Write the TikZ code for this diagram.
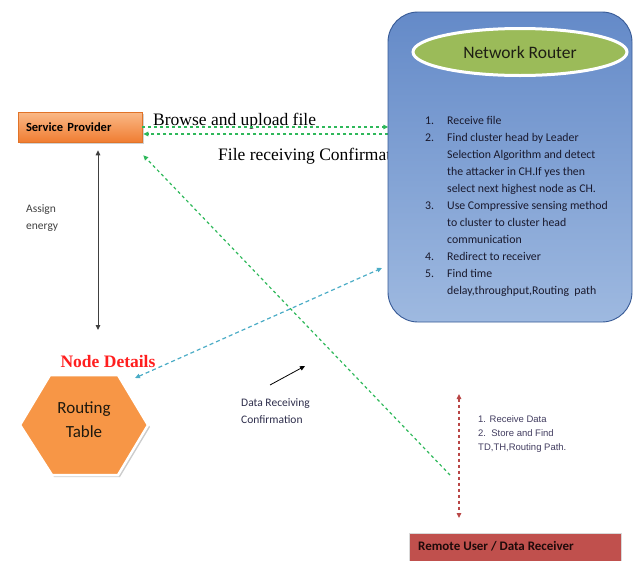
\documentclass[tikz,border=0pt]{standalone}
\usepackage{fontspec}
\setmainfont{Liberation Serif}
\newfontfamily\calfont{Carlito}
\newfontfamily\arfont{Liberation Sans}
\usetikzlibrary{shapes.geometric,arrows.meta,shadows}
\definecolor{grn}{RGB}{46,184,90}
\definecolor{blu}{RGB}{75,172,198}
\definecolor{redd}{RGB}{185,70,70}
\definecolor{orng}{RGB}{247,150,70}
\definecolor{olive}{RGB}{155,187,89}
\definecolor{remred}{RGB}{192,80,77}
\begin{document}
\begin{tikzpicture}[x=1pt,y=-1pt,
  tip/.style={-{Triangle[length=5pt,width=4.5pt]}},
  gdash/.style={draw=grn,line width=1.2pt,dash pattern=on 3pt off 3pt},
  bdash/.style={draw=blu,line width=1.2pt,dash pattern=on 4pt off 3pt},
  rdash/.style={draw=redd,line width=1.1pt,dash pattern=on 3pt off 3pt},
  spbox/.style={draw={rgb,255:red,225;green,115;blue,40},line width=0.6pt,
    top color={rgb,255:red,250;green,185;blue,135},bottom color={rgb,255:red,240;green,125;blue,50},
    minimum width=124pt,minimum height=30pt,text width=108pt,align=left,inner xsep=8pt,
    font=\calfont\bfseries\fontsize{12.5}{14}\selectfont,
    drop shadow={shadow xshift=1.5pt,shadow yshift=-1.5pt,fill=black!35}},
  routerbox/.style={draw={rgb,255:red,55;green,90;blue,150},line width=0.9pt,rounded corners=30pt,
    top color={rgb,255:red,100;green,138;blue,200},middle color={rgb,255:red,72;green,116;blue,184},
    bottom color={rgb,255:red,158;green,185;blue,224},minimum width=244pt,minimum height=310pt},
  lbl/.style={inner sep=0pt,anchor=west}
]
\useasboundingbox (0,0) rectangle (636,560);

% texts under the router
\node[lbl,font=\fontsize{17.5}{19}\selectfont] (bu) at (153,121) {Browse and upload file};
\node[lbl,font=\fontsize{17.5}{19}\selectfont] (fr) at (218,156) {File receiving Confirmation};

% service provider
\node[spbox] (sp) at (80,127) {Service Provider};

% coordinates for free ends
\coordinate (gd) at (450,475);
\coordinate (ae) at (98,330);
\coordinate (bl) at (135,378);
\coordinate (br) at (382,268);
\coordinate (ka) at (270,385);
\coordinate (kb) at (305,366);
\coordinate (ra) at (459,394);
\coordinate (rb) at (459,518);

% connectors
\draw[gdash,tip] (sp.east) -- +(246,0);
\draw[gdash,tip] ([yshift=-7pt]sp.east) ++(246,0) -- ([yshift=-7pt,xshift=1pt]sp.east);
\draw[gdash,tip] (gd) -- ([shift={(1pt,-13pt)}]sp.south east);
\draw[draw=black!75,line width=1pt,{Triangle[length=5pt,width=4.5pt]}-{Triangle[length=5pt,width=4.5pt]}] ([shift={(18pt,-8pt)}]sp.south) -- (ae);
\draw[bdash,{Triangle[length=5pt,width=4.5pt]}-{Triangle[length=5pt,width=4.5pt]}] (bl) -- (br);
\draw[black,line width=0.8pt,tip] (ka) -- (kb);
\draw[rdash,{Triangle[length=5pt,width=4.5pt]}-{Triangle[length=5pt,width=4.5pt]}] (ra) -- (rb);

% router
\node[routerbox] (router) at (510,167) {};
\node[ellipse,fill=olive,draw=white,line width=3pt,minimum width=214pt,minimum height=47pt,
  font=\calfont\fontsize{17.5}{19}\selectfont,text={rgb,255:red,30;green,30;blue,20}] (nr) at (520,52) {Network Router};
\node[anchor=north west,inner sep=0pt,align=left,font=\calfont\fontsize{11.8}{17}\selectfont,
  text={rgb,255:red,25;green,25;blue,45}] (list) at (425,116) {%
\makebox[22pt][l]{1.}Receive file\\
\makebox[22pt][l]{2.}Find cluster head by Leader\\
\hspace*{22pt}Selection Algorithm and detect\\
\hspace*{22pt}the attacker in CH.If yes then\\
\hspace*{22pt}select next highest node as CH.\\
\makebox[22pt][l]{3.}Use Compressive sensing method\\
\hspace*{22pt}to cluster to cluster head\\
\hspace*{22pt}communication\\
\makebox[22pt][l]{4.}Redirect to receiver\\
\makebox[22pt][l]{5.}Find time\\
\hspace*{22pt}delay,throughput,Routing\ \ path};

% labels
\node[anchor=north west,inner sep=0pt,align=left,font=\calfont\fontsize{11.5}{17}\selectfont,text=black!75] (ae1) at (26,204) {Assign\\energy};
\node[font=\bfseries\fontsize{17.5}{19}\selectfont,text={rgb,255:red,255;green,30;blue,30},inner sep=0pt] (nd) at (108,362) {Node Details};
\node[anchor=north west,inner sep=0pt,align=left,font=\calfont\fontsize{11.5}{17}\selectfont,
  text={rgb,255:red,45;green,45;blue,75}] (drc) at (241,398) {Data Receiving\\Confirmation};
\node[anchor=north west,inner sep=0pt,align=left,font=\arfont\fontsize{9.5}{14}\selectfont,
  text={rgb,255:red,65;green,60;blue,95}] (rd) at (478,415) {1. Receive Data\\2.\ \ Store and Find\\TD,TH,Routing Path.};

% routing table hexagon
\fill[black!20] (52,377)--(120,377)--(150,427)--(120,477)--(54,477)--(22,427)--cycle;
\filldraw[fill=orng,draw=white,line width=2.5pt] (50,375)--(118,375)--(148,425)--(118,475)--(52,475)--(20,425)--cycle;
\node[align=center,font=\calfont\fontsize{17}{24}\selectfont,text={rgb,255:red,30;green,25;blue,15}] (rt) at (84,420) {Routing\\Table};

% remote user
\node[anchor=north west,fill=remred,draw=black!15,line width=1pt,minimum width=212pt,minimum height=40pt] (rem) at (409,533) {};
\node[anchor=west,inner sep=0pt,font=\calfont\bfseries\fontsize{13}{15}\selectfont,text={rgb,255:red,30;green,10;blue,10}] (remt) at (418,546) {Remote User / Data Receiver};
\end{tikzpicture}
\end{document}
